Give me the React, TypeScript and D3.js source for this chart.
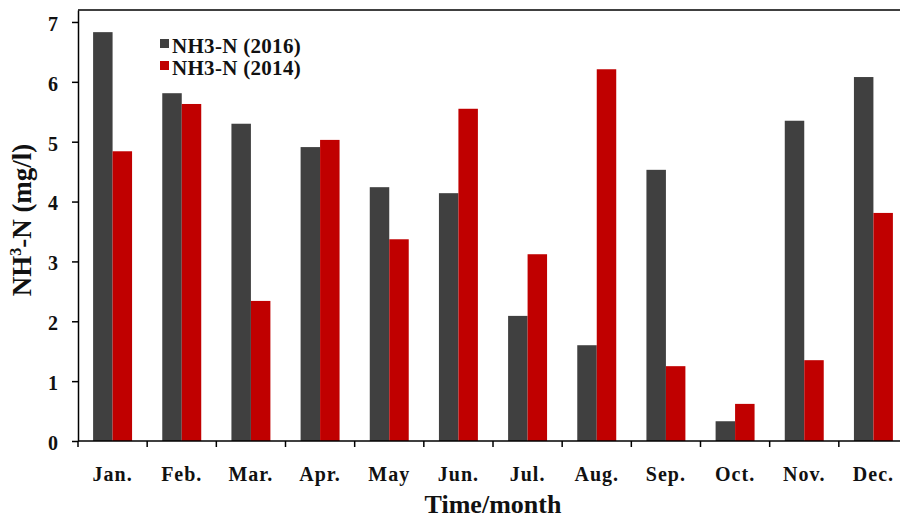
import React, { useEffect, useRef } from 'react'
import * as d3 from 'd3'

// values (mg/l)
const months = ['Jan.', 'Feb.', 'Mar.', 'Apr.', 'May', 'Jun.', 'Jul.', 'Aug.', 'Sep.', 'Oct.', 'Nov.', 'Dec.']
const series = ['NH3-N (2016)', 'NH3-N (2014)']
const values2016 = [6.83, 5.81, 5.30, 4.91, 4.24, 4.14, 2.09, 1.60, 4.53, 0.33, 5.35, 6.08]
const values2014 = [4.84, 5.63, 2.34, 5.03, 3.37, 5.55, 3.12, 6.21, 1.25, 0.62, 1.35, 3.81]
const yTicks = [0, 1, 2, 3, 4, 5, 6, 7]
const colors = ['#404040', '#c00000']

const W = 900, H = 520
const FONT = '"Liberation Serif", "Times New Roman", serif'

export default function App() {
  const ref = useRef<SVGSVGElement>(null)

  useEffect(() => {
    const svg = d3.select(ref.current)
    svg.selectAll('*').remove()

    const left = 78, right = 908, top = 10, bottom = 441

    const x = d3.scaleBand<string>().domain(months).range([left, right]).padding(0)
    const xs = d3.scaleBand<string>().domain(series).range([0, x.bandwidth()])
      .paddingInner(0).paddingOuter(0.775)
    const y = d3.scaleLinear().domain([0, 7.2]).range([bottom, top])

    const data = [values2016, values2014]

    // bars
    const g = svg.append('g')
    series.forEach((s, si) => {
      g.selectAll(`.bar${si}`)
        .data(data[si])
        .enter().append('rect')
        .attr('x', (d, i) => x(months[i])! + xs(s)!)
        .attr('y', d => y(d))
        .attr('width', xs.bandwidth())
        .attr('height', d => bottom - y(d))
        .attr('fill', colors[si])
    })

    // frame: top line, left axis, bottom axis
    svg.append('line')
      .attr('x1', left).attr('x2', W).attr('y1', top).attr('y2', top)
      .attr('stroke', '#000').attr('stroke-width', 1.5)

    const yAxis = svg.append('g').attr('transform', `translate(${left},0)`)
      .call(d3.axisLeft(y).tickValues(yTicks).tickSize(6).tickSizeOuter(0).tickPadding(14).tickFormat(d3.format('d')))
    yAxis.select('.domain').attr('stroke-width', 1.5)
    yAxis.selectAll('.tick line').attr('stroke-width', 1.5)
    yAxis.selectAll('.tick text')
      .attr('font-family', FONT).attr('font-size', 20).attr('font-weight', 'bold')
      .attr('fill', '#111').attr('dy', '0.42em')

    const xAxis = svg.append('g').attr('transform', `translate(0,${bottom})`)
    xAxis.append('line')
      .attr('x1', left).attr('x2', W).attr('y1', 0).attr('y2', 0)
      .attr('stroke', '#000').attr('stroke-width', 1.5)
    xAxis.selectAll('.xt')
      .data(months)
      .enter().append('line')
      .attr('x1', d => x(d)!).attr('x2', d => x(d)!)
      .attr('y1', 0).attr('y2', 6)
      .attr('stroke', '#000').attr('stroke-width', 1.5)
    xAxis.selectAll('.xl')
      .data(months)
      .enter().append('text')
      .attr('x', d => x(d)! + x.bandwidth() / 2)
      .attr('y', 40)
      .attr('text-anchor', 'middle')
      .attr('font-family', FONT).attr('font-size', 20).attr('font-weight', 'bold')
      .attr('letter-spacing', 1)
      .attr('fill', '#111')
      .text(d => d)

    // axis titles
    svg.append('text')
      .attr('x', 493).attr('y', 513)
      .attr('text-anchor', 'middle')
      .attr('font-family', FONT).attr('font-size', 26).attr('font-weight', 'bold')
      .attr('fill', '#111')
      .text('Time/month')

    const yt = svg.append('text')
      .attr('transform', `translate(31,220) rotate(-90)`)
      .attr('text-anchor', 'middle')
      .attr('font-family', FONT).attr('font-size', 27).attr('font-weight', 'bold')
      .attr('fill', '#111')
    yt.append('tspan').text('NH')
    yt.append('tspan').attr('font-size', 16).attr('dy', -10).text('3')
    yt.append('tspan').attr('dy', 10).text('-N (mg/l)')

    // legend
    const lg = svg.append('g').attr('transform', 'translate(160,39)')
    series.forEach((s, i) => {
      lg.append('rect').attr('x', 0).attr('y', i * 22).attr('width', 9).attr('height', 9).attr('fill', colors[i])
      lg.append('text')
        .attr('x', 12).attr('y', i * 22 + 14)
        .attr('font-family', FONT).attr('font-size', 21).attr('font-weight', 'bold')
        .attr('letter-spacing', 0.3)
        .attr('fill', '#111')
        .text(s)
    })
  }, [])

  return (
    <svg ref={ref} width={W} height={H}
      style={{ position: 'absolute', left: 0, top: 0, background: '#fff' }} />
  )
}
